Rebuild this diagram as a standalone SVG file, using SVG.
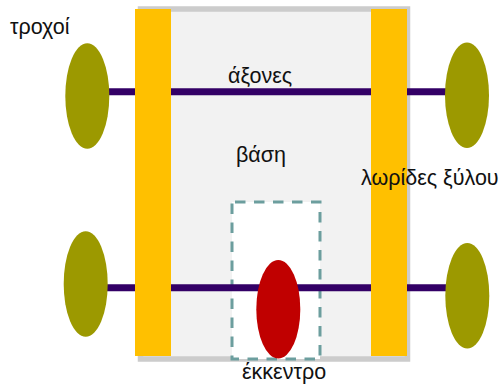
<svg xmlns="http://www.w3.org/2000/svg" width="500" height="385" viewBox="0 0 500 385">
<style>
.t{font-family:"Liberation Sans",Arial,sans-serif;font-size:21.500px;fill:#111}
.wheel{fill:#9c9900}
.strip{fill:#ffc000}
.axle{stroke:#330066;stroke-width:7;fill:none}
</style>
<rect width="500" height="385" fill="#fff"/>
<g id="base"><rect x="140.500" y="9" width="267" height="350" fill="#f2f2f2" stroke="#cccccc" stroke-width="5.500"/></g>
<g id="cam-frame"><rect x="232" y="202" width="88" height="157" fill="#fff" stroke="#6c9e9e" stroke-width="3" stroke-dasharray="10.500 8.500" stroke-dashoffset="-3"/></g>
<g id="connectors">
<path class="axle" d="M105 91.700H449"/>
<path class="axle" d="M104 287.700H449"/>
</g>
<g id="strip-left"><rect class="strip" x="135" y="9" width="36" height="347"/></g>
<g id="strip-right"><rect class="strip" x="371" y="9" width="36" height="347"/></g>
<g id="wheel-tl"><ellipse class="wheel" cx="87.300" cy="96" rx="22" ry="52.700"/></g>
<g id="wheel-tr"><ellipse class="wheel" cx="467" cy="95.200" rx="22" ry="52.700"/></g>
<g id="wheel-bl"><ellipse class="wheel" cx="85.700" cy="284" rx="22" ry="52.700"/></g>
<g id="wheel-br"><ellipse class="wheel" cx="467.300" cy="295.700" rx="22" ry="52.700"/></g>
<g id="cam"><ellipse cx="278.300" cy="309.200" rx="22" ry="49.200" fill="#c00000"/></g>
<g id="labels">
<text class="t" x="10" y="34">τροχοί</text>
<text class="t" x="228" y="83">άξονες</text>
<text class="t" x="236" y="162">βάση</text>
<text class="t" x="361" y="185">λωρίδες ξύλου</text>
<text class="t" x="242" y="379">έκκεντρο</text>
</g>
</svg>
